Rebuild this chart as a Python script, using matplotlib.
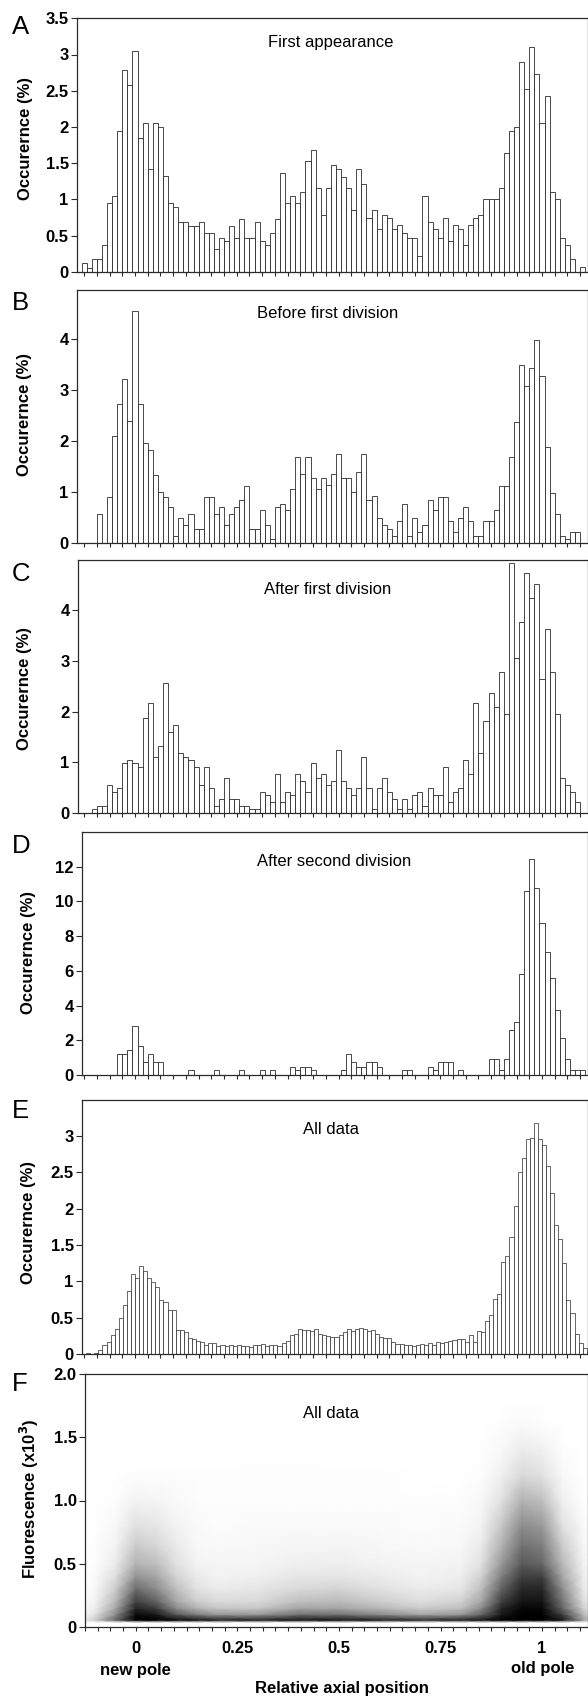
import matplotlib.pyplot as plt
import numpy as np

plt.rcParams['font.family'] = ['Liberation Sans', 'DejaVu Sans']

# ---- data ----
# A-D: bins 1/80 wide, centred on k/80, k = -10 .. 88
bin_k = np.arange(-10, 89)
first_appearance = [
    0.12, 0.05, 0.17, 0.17, 0.37, 0.95, 1.05, 1.95, 2.79, 2.58,
    3.05, 1.85, 2.05, 1.42, 2.05, 2.0, 1.32, 0.95, 0.9, 0.69,
    0.69, 0.63, 0.63, 0.69, 0.53, 0.53, 0.32, 0.47, 0.42, 0.63,
    0.47, 0.73, 0.47, 0.47, 0.69, 0.42, 0.37, 0.53, 0.73, 1.37,
    0.95, 1.05, 0.95, 1.1, 1.53, 1.68, 1.16, 0.79, 1.16, 1.47,
    1.42, 1.31, 1.16, 0.85, 1.42, 1.21, 0.74, 0.85, 0.59, 0.79,
    0.74, 0.59, 0.64, 0.53, 0.47, 0.47, 0.22, 1.05, 0.69, 0.59,
    0.47, 0.74, 0.42, 0.64, 0.59, 0.37, 0.64, 0.74, 0.79, 1.0,
    1.0, 1.0, 1.16, 1.64, 1.95, 2.0, 2.89, 2.53, 3.1, 2.73,
    2.05, 2.42, 1.1, 1.0, 0.47, 0.37, 0.17, 0.0, 0.06]
before_first = [
    0, 0, 0, 0.57, 0, 0.91, 2.11, 2.74, 3.23, 2.39,
    4.55, 2.74, 1.97, 1.83, 1.33, 1.0, 0.91, 0.70, 0.14, 0.49,
    0.36, 0.57, 0.28, 0.28, 0.91, 0.91, 0.57, 0.70, 0.36, 0.57,
    0.70, 0.85, 1.12, 0.28, 0.28, 0.64, 0.36, 0.08, 0.70, 0.77,
    0.64, 1.06, 1.69, 1.35, 1.69, 1.27, 1.06, 1.27, 1.13, 1.35,
    1.75, 1.27, 1.27, 1.0, 1.40, 1.75, 0.85, 0.92, 0.49, 0.35,
    0.28, 0.14, 0.43, 0.77, 0.14, 0.49, 0.22, 0.35, 0.85, 0.64,
    0.91, 0.91, 0.43, 0.22, 0.49, 0.70, 0.43, 0.14, 0.14, 0.43,
    0.43, 0.64, 1.12, 1.12, 1.69, 2.38, 3.49, 3.09, 3.43, 3.99,
    3.29, 1.89, 0.98, 0.57, 0.14, 0.08, 0.22, 0.22, 0]
after_first = [
    0, 0, 0.07, 0.13, 0.13, 0.55, 0.42, 0.49, 0.98, 1.04,
    0.98, 0.91, 1.87, 2.16, 1.11, 1.32, 2.57, 1.6, 1.74, 1.19,
    1.11, 1.04, 0.91, 0.55, 0.91, 0.49, 0.13, 0.28, 0.69, 0.28,
    0.28, 0.13, 0.13, 0.07, 0.07, 0.42, 0.35, 0.21, 0.76, 0.21,
    0.42, 0.35, 0.76, 0.63, 0.42, 0.98, 0.69, 0.76, 0.55, 0.63,
    1.25, 0.63, 0.49, 0.35, 0.49, 1.11, 0.49, 0.07, 0.49, 0.69,
    0.42, 0.28, 0.07, 0.28, 0.07, 0.35, 0.42, 0.13, 0.49, 0.35,
    0.35, 0.91, 0.21, 0.42, 0.49, 1.04, 0.76, 2.16, 1.19, 1.81,
    2.37, 2.09, 2.78, 1.95, 4.94, 3.06, 3.76, 4.73, 4.25, 4.52,
    2.65, 3.62, 2.78, 1.95, 0.69, 0.55, 0.42, 0.21, 0]
after_second = [
    0, 0, 0, 0, 0, 0, 0, 1.19, 1.19, 1.44,
    2.82, 1.65, 0.73, 1.19, 0.73, 0.73, 0, 0, 0, 0,
    0, 0.27, 0, 0, 0, 0, 0.27, 0, 0, 0,
    0, 0.27, 0, 0, 0, 0.27, 0, 0.27, 0, 0,
    0, 0.48, 0.27, 0.48, 0.48, 0.27, 0, 0, 0, 0,
    0, 0.27, 1.19, 0.73, 0.48, 0.48, 0.73, 0.73, 0.48, 0,
    0, 0, 0, 0.27, 0.27, 0, 0, 0, 0.48, 0.27,
    0.73, 0.73, 0.73, 0, 0.27, 0, 0, 0, 0, 0,
    0.94, 0.94, 0.27, 0.94, 2.57, 3.03, 5.8, 10.6, 12.47, 10.8,
    8.77, 7.09, 5.56, 3.72, 2.11, 0.94, 0.27, 0.27, 0.27]

# E: bins 1/100 wide, from j/100 to (j+1)/100, j = -12 .. 111
bin_j = np.arange(-12, 112)
all_data = [
    0.01, 0.0, 0.02, 0.05, 0.12, 0.17, 0.26, 0.34, 0.5, 0.68, 0.86, 1.1,
    1.05, 1.21, 1.14, 1.04, 0.99, 0.92, 0.74, 0.71, 0.6, 0.61,
    0.33, 0.33, 0.30, 0.22, 0.2, 0.18, 0.17, 0.12, 0.15, 0.15,
    0.11, 0.12, 0.11, 0.12, 0.11, 0.12, 0.11, 0.11, 0.09, 0.13,
    0.12, 0.14, 0.11, 0.13, 0.12, 0.11, 0.15, 0.18, 0.26, 0.28,
    0.34, 0.33, 0.33, 0.31, 0.34, 0.28, 0.26, 0.25, 0.24, 0.24,
    0.26, 0.30, 0.35, 0.31, 0.35, 0.36, 0.34, 0.31, 0.33, 0.28,
    0.24, 0.22, 0.22, 0.16, 0.14, 0.14, 0.12, 0.12, 0.11, 0.13,
    0.14, 0.12, 0.15, 0.13, 0.16, 0.15, 0.17, 0.18, 0.19, 0.21,
    0.20, 0.17, 0.26, 0.17, 0.32, 0.30, 0.45, 0.53, 0.75, 0.82,
    1.26, 1.35, 1.61, 2.04, 2.50, 2.70, 2.96, 2.97, 3.17, 2.96,
    2.87, 2.58, 2.22, 1.77, 1.58, 1.25, 0.74, 0.56, 0.28, 0.15,
    0.08, 0.03]

# F: relative density of the scatter cloud (0 = empty, 1 = black)
f_pos = [-0.125, -0.1, -0.05, 0.0, 0.05, 0.1, 0.15, 0.2, 0.3, 0.4, 0.5,
         0.6, 0.7, 0.8, 0.85, 0.9, 0.95, 1.0, 1.05, 1.1, 1.125]
f_fluo = [0.0, 0.035, 0.055, 0.1, 0.15, 0.2, 0.3, 0.4, 0.5, 0.65, 0.8,
          1.0, 1.2, 1.4, 1.6, 1.8, 2.0]
f_density = [
    [0] * 21,
    [0] * 21,
    [0.1, 0.2, 0.6, 1.0, 1.0, 0.95, 0.9, 0.85, 0.85, 0.9, 0.9, 0.85, 0.8, 0.85, 0.9, 1.0, 1.0, 1.0, 0.9, 0.4, 0.15],
    [0.05, 0.12, 0.45, 0.95, 0.9, 0.65, 0.5, 0.4, 0.4, 0.55, 0.55, 0.45, 0.35, 0.4, 0.6, 0.9, 1.0, 1.0, 0.75, 0.3, 0.1],
    [0.03, 0.07, 0.35, 0.85, 0.75, 0.45, 0.3, 0.22, 0.22, 0.35, 0.35, 0.28, 0.2, 0.25, 0.45, 0.85, 0.97, 0.97, 0.6, 0.2, 0.05],
    [0.02, 0.05, 0.28, 0.75, 0.62, 0.35, 0.2, 0.15, 0.15, 0.25, 0.27, 0.2, 0.13, 0.18, 0.35, 0.75, 0.92, 0.92, 0.55, 0.15, 0.04],
    [0.01, 0.03, 0.2, 0.58, 0.45, 0.25, 0.12, 0.08, 0.1, 0.15, 0.17, 0.12, 0.08, 0.1, 0.25, 0.62, 0.85, 0.85, 0.45, 0.1, 0.03],
    [0, 0.02, 0.13, 0.42, 0.35, 0.17, 0.08, 0.05, 0.06, 0.1, 0.1, 0.08, 0.05, 0.07, 0.18, 0.5, 0.75, 0.75, 0.35, 0.08, 0.02],
    [0, 0.01, 0.08, 0.3, 0.25, 0.12, 0.05, 0.04, 0.04, 0.06, 0.07, 0.05, 0.04, 0.05, 0.12, 0.4, 0.65, 0.6, 0.28, 0.06, 0.01],
    [0, 0.01, 0.05, 0.2, 0.16, 0.08, 0.03, 0.02, 0.03, 0.04, 0.04, 0.03, 0.02, 0.03, 0.08, 0.3, 0.55, 0.5, 0.2, 0.04, 0],
    [0, 0, 0.03, 0.12, 0.1, 0.05, 0.02, 0.01, 0.02, 0.02, 0.02, 0.02, 0.01, 0.02, 0.05, 0.22, 0.45, 0.4, 0.12, 0.03, 0],
    [0, 0, 0.01, 0.05, 0.04, 0.02, 0.01, 0.01, 0.01, 0.01, 0.01, 0.01, 0.01, 0.01, 0.03, 0.12, 0.3, 0.25, 0.06, 0.01, 0],
    [0, 0, 0, 0.01, 0.01, 0.01, 0.01, 0.01, 0.01, 0.01, 0.01, 0.01, 0, 0, 0.01, 0.06, 0.15, 0.12, 0.03, 0, 0],
    [0, 0, 0, 0, 0, 0, 0, 0, 0.005, 0.005, 0, 0, 0, 0, 0.005, 0.03, 0.08, 0.06, 0.01, 0, 0],
    [0, 0, 0, 0, 0, 0, 0, 0, 0, 0, 0, 0, 0, 0, 0, 0.01, 0.02, 0.01, 0, 0, 0],
    [0] * 21,
    [0] * 21,
]

# ---- layout (pixels of the 588 x 1698 figure) ----
W, H = 588, 1698
RIGHT = 587.5
PX0, PPU = 135.0, 407.0      # pixel of x = 0 and pixels per unit
ink = '#2a2a2a'
TICK_FS = 12
LABEL_FS = 12

fig = plt.figure(figsize=(W / 100, H / 100), dpi=100)


def ftext(x, y, s, **kw):
    fig.text(x / W, 1 - y / H, s, **kw)


def make_axes(left, top, bottom, ymax, yticks, ylabels):
    ax = fig.add_axes([left / W, 1 - bottom / H, (RIGHT - left) / W, (bottom - top) / H])
    ax.set_xlim((left - PX0) / PPU, (RIGHT - PX0) / PPU)
    ax.set_ylim(0, ymax)
    ax.set_xticks(np.arange(-4, 36) / 32)
    ax.set_xticklabels([])
    ax.set_yticks(yticks)
    ax.set_yticklabels(ylabels, fontsize=TICK_FS, fontweight='bold')
    ax.tick_params(axis='x', direction='out', length=3, width=0.8, color=ink)
    ax.tick_params(axis='y', direction='out', length=4, width=0.8, color=ink, pad=2)
    for sp in ax.spines.values():
        sp.set_color(ink)
        sp.set_linewidth(0.9)
    return ax


panels = [
    # letter, title, values, left, top, bottom, ymax, ticks, labels, letter y, ylabel x,y, title x,y
    ('A', 'First appearance', first_appearance, 77, 18.3, 271.7, 3.5,
     [0, 0.5, 1, 1.5, 2, 2.5, 3, 3.5], ['0', '0.5', '1', '1.5', '2', '2.5', '3', '3.5'],
     27.5, (25.5, 139), (268, 43)),
    ('B', 'Before first division', before_first, 77, 289.5, 543, 4.98,
     [0, 1, 2, 3, 4], ['0', '1', '2', '3', '4'],
     302.5, (25, 414), (257, 314)),
    ('C', 'After first division', after_first, 78, 559.5, 813, 5.0,
     [0, 1, 2, 3, 4], ['0', '1', '2', '3', '4'],
     574, (25, 688), (264, 589)),
    ('D', 'After second division', after_second, 82, 832, 1075, 14,
     [0, 2, 4, 6, 8, 10, 12], ['0', '2', '4', '6', '8', '10', '12'],
     846, (28, 952), (257, 861)),
]

for letter, title, vals, left, top, bottom, ymax, ticks, labels, ly, (yx, yy), (tx, ty) in panels:
    ax = make_axes(left, top, bottom, ymax, ticks, labels)
    ax.bar(bin_k / 80, vals, width=1 / 80, color='white', edgecolor=ink, linewidth=0.6)
    ftext(12, ly, letter, fontsize=18.5, va='center', ha='left')
    ftext(yx, yy, 'Occurernce (%)', rotation=90, fontsize=LABEL_FS, fontweight='bold',
          va='center', ha='center')
    ftext(tx, ty, title, fontsize=12, va='center', ha='left')

# E
ax = make_axes(82, 1099.5, 1354, 3.5, [0, 0.5, 1, 1.5, 2, 2.5, 3],
               ['0', '0.5', '1', '1.5', '2', '2.5', '3'])
ax.bar((bin_j + 0.5) / 100, all_data, width=1 / 100, color='white', edgecolor=ink, linewidth=0.5)
ftext(12, 1111, 'E', fontsize=18.5, va='center', ha='left')
ftext(28, 1222, 'Occurernce (%)', rotation=90, fontsize=LABEL_FS, fontweight='bold',
      va='center', ha='center')
ftext(303, 1129, 'All data', fontsize=12, va='center', ha='left')

# F
ax = make_axes(85, 1374, 1627, 2.0, [0, 0.5, 1.0, 1.5, 2.0], ['0', '0.5', '1.0', '1.5', '2.0'])
ax.pcolormesh(f_pos, f_fluo, np.array(f_density), shading='gouraud', cmap='gray_r',
              vmin=0, vmax=1, rasterized=True)
ax.set_xticks([0, 0.25, 0.5, 0.75, 1.0])
ax.set_xticklabels(['0', '0.25', '0.5', '0.75', '1'], fontsize=TICK_FS, fontweight='bold')
ax.set_xticks(np.arange(-4, 36) / 32, minor=True)
ax.tick_params(axis='x', which='both', direction='out', length=3, width=0.8, color=ink, pad=7)
ftext(12, 1384, 'F', fontsize=18.5, va='center', ha='left')
ftext(29, 1499, 'Fluorescence (x10$^{\\mathbf{3}}$)', rotation=90, fontsize=LABEL_FS,
      fontweight='bold', va='center', ha='center')
ftext(303, 1413, 'All data', fontsize=12, va='center', ha='left')
ftext(135, 1670, 'new pole', fontsize=LABEL_FS, fontweight='bold', va='center', ha='center')
ftext(542.5, 1668, 'old pole', fontsize=LABEL_FS, fontweight='bold', va='center', ha='center')
ftext(341.5, 1688, 'Relative axial position', fontsize=LABEL_FS, fontweight='bold',
      va='center', ha='center')

fig.savefig('out.png', dpi=100)
